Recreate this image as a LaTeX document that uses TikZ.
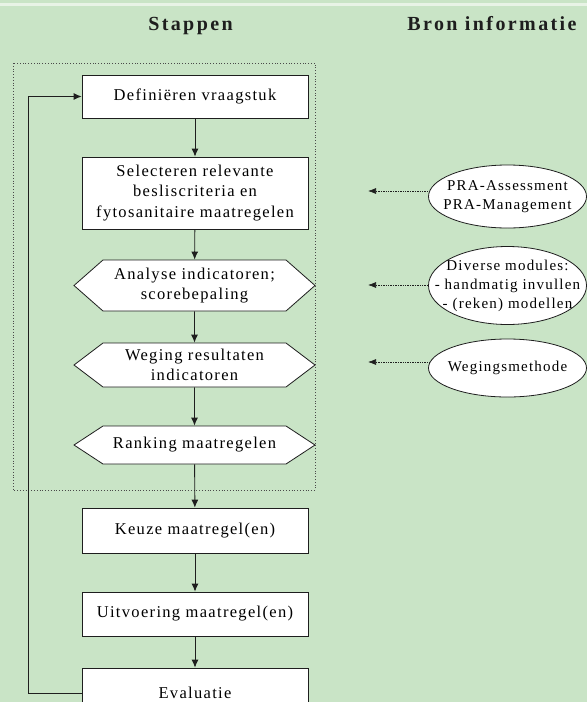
\documentclass[tikz,border=0pt]{standalone}
\usepackage{fontspec}
\setmainfont{Liberation Serif}
\newfontfamily\stepfont[LetterSpace=8]{Liberation Serif}
\newfontfamily\headfont[LetterSpace=12]{Liberation Serif}
\usepackage{xcolor}
\definecolor{PageGreen}{HTML}{C9E4C6}
\definecolor{StripeGreen}{HTML}{E8F3E6}
\definecolor{InkDark}{HTML}{1E1E1E}
\definecolor{FrameGrey}{HTML}{4A4A4A}
\usepackage{tikz}
\usetikzlibrary{positioning,calc,shapes.geometric,shapes.symbols,arrows.meta,backgrounds}

\tikzset{
  stepbox/.style={draw=InkDark, fill=white, line width=0.8pt, minimum width=226,
    inner sep=0pt, align=center, font=\stepfont\fontsize{16.5}{20.5}\selectfont},
  hexbox/.style={stepbox, shape=signal, signal to=west and east, minimum width=241},
  srcnode/.style={ellipse, draw=InkDark, fill=white, line width=0.8pt, minimum width=158,
    inner xsep=-25pt, inner ysep=-10pt, align=center, font=\stepfont\fontsize{15}{19}\selectfont},
  heading/.style={anchor=base, text=InkDark, font=\headfont\bfseries\fontsize{20}{24}\selectfont},
  flow/.style={draw=InkDark, line width=0.9pt, -{Latex[length=8pt,width=7pt]}},
  srcflow/.style={draw=InkDark, line width=0.7pt, densely dotted, -{Latex[length=8pt,width=6pt]}},
}

\begin{document}
\begin{tikzpicture}[x=1pt, y=-1pt]
  \useasboundingbox (0,0) rectangle (587,702);
  \clip (0,0) rectangle (587,702);
  \begin{scope}[on background layer]
    \fill[PageGreen] (0,0) rectangle (587,702);
    \fill[StripeGreen] (0,3.3) rectangle (587,5.5);
  \end{scope}

  % kolomkoppen
  \node[heading] (stappen) at (190.5,30.7) {Stappen};
  \node[heading] (bron) at (492,30.7) {Bron informatie};

  % kader rond de analysestappen
  \draw[FrameGrey, line width=0.8pt, dotted] (13,63) rectangle (315,490);

  % stappen
  \node[stepbox, minimum height=43] (vraag) at (195,96.5) {Definiëren vraagstuk};
  \node[stepbox, minimum height=72] (select) at (195,193)
    {Selecteren relevante\\besliscriteria en\\fytosanitaire maatregelen};
  \node[hexbox, minimum height=51, signal pointer angle=82.7] (analyse) at (194.5,285.5)
    {Analyse indicatoren;\\scorebepaling};
  \node[hexbox, minimum height=44, signal pointer angle=74.4] (weging) at (194.5,365)
    {Weging resultaten\\indicatoren};
  \node[hexbox, minimum height=38, signal pointer angle=66.5] (ranking) at (194.5,445)
    {Ranking maatregelen};
  \node[stepbox, minimum height=45] (keuze) at (195,530.5) {Keuze maatregel(en)};
  \node[stepbox, minimum height=44] (uitvoer) at (195,614) {Uitvoering maatregel(en)};
  \node[stepbox, minimum height=50] (evaluatie) at (195,693) {Evaluatie};

  \draw[flow] (vraag) -- (select);
  \draw[flow] (select) -- (analyse);
  \draw[flow] (analyse) -- (weging);
  \draw[flow] (weging) -- (ranking);
  \draw[flow] (ranking) -- (keuze);
  \draw[flow] (keuze) -- (uitvoer);
  \draw[flow] (uitvoer) -- (evaluatie);
  \draw[flow] (evaluatie.west) -- ++(-53,0) |- (vraag.west);

  % bronnen
  \node[srcnode, minimum height=63] (pra) at (507.5,196.5) {PRA-Assessment\\PRA-Management};
  \node[srcnode, minimum height=78] (modules) at (507.5,285.5)
    {Diverse modules:\\- handmatig invullen\\- (reken) modellen};
  \node[srcnode, minimum height=58] (methode) at (507.5,368) {Wegingsmethode};

  \coordinate (t1) at (368,191);
  \coordinate (t2) at (368,285);
  \coordinate (t3) at (368,362);
  \begin{scope}[on background layer]
    \draw[srcflow] (pra.center |- t1) -- (t1);
    \draw[srcflow] (modules.center |- t2) -- (t2);
    \draw[srcflow] (methode.center |- t3) -- (t3);
  \end{scope}
\end{tikzpicture}
\end{document}
